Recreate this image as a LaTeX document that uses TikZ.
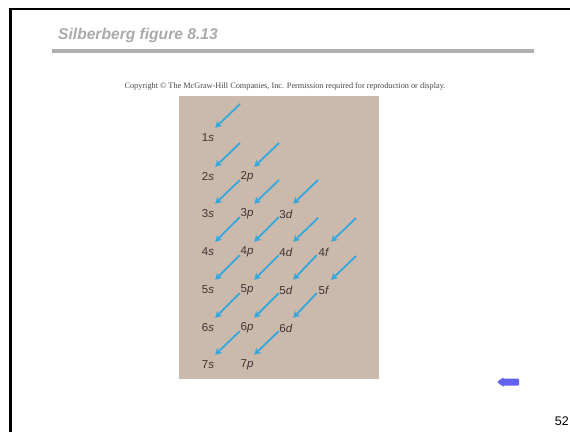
\documentclass[tikz,border=0pt]{standalone}
\usepackage{fontspec}
\setmainfont{Liberation Serif}
\setsansfont{Liberation Sans}
\usetikzlibrary{arrows.meta,calc}
\definecolor{arrcol}{RGB}{50,168,222}
\definecolor{labcol}{RGB}{62,52,50}
\definecolor{titlegray}{RGB}{170,170,170}
\definecolor{rulegray}{RGB}{176,176,176}
\definecolor{copygray}{RGB}{70,70,70}
\definecolor{panelbg}{RGB}{203,185,172}
\definecolor{blockblue}{RGB}{98,98,240}
\begin{document}
\begin{tikzpicture}[x=1pt,y=-1pt,
  orb/.style={font=\fontsize{11.5}{13}\sffamily, text=labcol, minimum width=14pt, minimum height=20pt, inner sep=0pt},
  arr/.style={draw=arrcol, line width=1.8pt, -{Stealth[length=6.5pt,width=7pt]}}]
\useasboundingbox (0,0) rectangle (570,432);
\fill[white] (0,0) rectangle (570,432);
\draw[line width=2.5pt] (10.5,432) -- (10.5,9) -- (570,9);
\node[anchor=base west, font=\fontsize{15.6}{18}\sffamily\bfseries\itshape, text=titlegray, inner sep=0pt] (title) at (58,39) {Silberberg figure 8.13};
\fill[rulegray] (52,49) rectangle (534,53);
\node[font=\fontsize{8.25}{9}\selectfont, text=copygray, inner sep=0pt] (copy) at (285,86) {Copyright \textcopyright{} The McGraw-Hill Companies, Inc. Permission required for reproduction or display.};
\fill[panelbg] (179,96) rectangle (379,379);
% orbitals
\node[orb] (o1s) at (208,138) {1\textit{s}};
\node[orb] (o2s) at (208,177) {2\textit{s}};
\node[orb] (o2p) at (247,177) {2\textit{p}};
\node[orb] (o3s) at (208,214) {3\textit{s}};
\node[orb] (o3p) at (247,214) {3\textit{p}};
\node[orb] (o3d) at (286,214) {3\textit{d}};
\node[orb] (o4s) at (208,252) {4\textit{s}};
\node[orb] (o4p) at (247,252) {4\textit{p}};
\node[orb] (o4d) at (286,252) {4\textit{d}};
\node[orb] (o4f) at (324,252) {4\textit{f}};
\node[orb] (o5s) at (208,290) {5\textit{s}};
\node[orb] (o5p) at (247,290) {5\textit{p}};
\node[orb] (o5d) at (286,290) {5\textit{d}};
\node[orb] (o5f) at (324,290) {5\textit{f}};
\node[orb] (o6s) at (208,328) {6\textit{s}};
\node[orb] (o6p) at (247,328) {6\textit{p}};
\node[orb] (o6d) at (286,328) {6\textit{d}};
\node[orb] (o7s) at (208,365) {7\textit{s}};
\node[orb] (o7p) at (247,365) {7\textit{p}};
% free tails
\foreach \n in {1s,2s,2p,3p,3d,4d,4f,5f}{
  \coordinate (f\n) at ($(o\n)+(32,-34)$);
  \draw[arr] (f\n) -- (o\n.north east);
}
% connecting arrows
\foreach \a/\b in {2p/3s,3p/4s,3d/4p,4p/5s,4d/5p,5p/6s,4f/5d,5d/6p,6p/7s,5f/6d,6d/7p}{
  \draw[arr] (o\a.203) -- (o\b.north east);
}
% block arrow
\fill[blockblue, rounded corners=1pt] (497,382) -- (503,377.5) -- (503,378.5) -- (519,378.5) -- (519,385.5) -- (503,385.5) -- (503,386.5) -- cycle;
\node[anchor=base east, font=\fontsize{12.5}{15}\sffamily, inner sep=0pt] (pg) at (569,425) {52};
\end{tikzpicture}
\end{document}
